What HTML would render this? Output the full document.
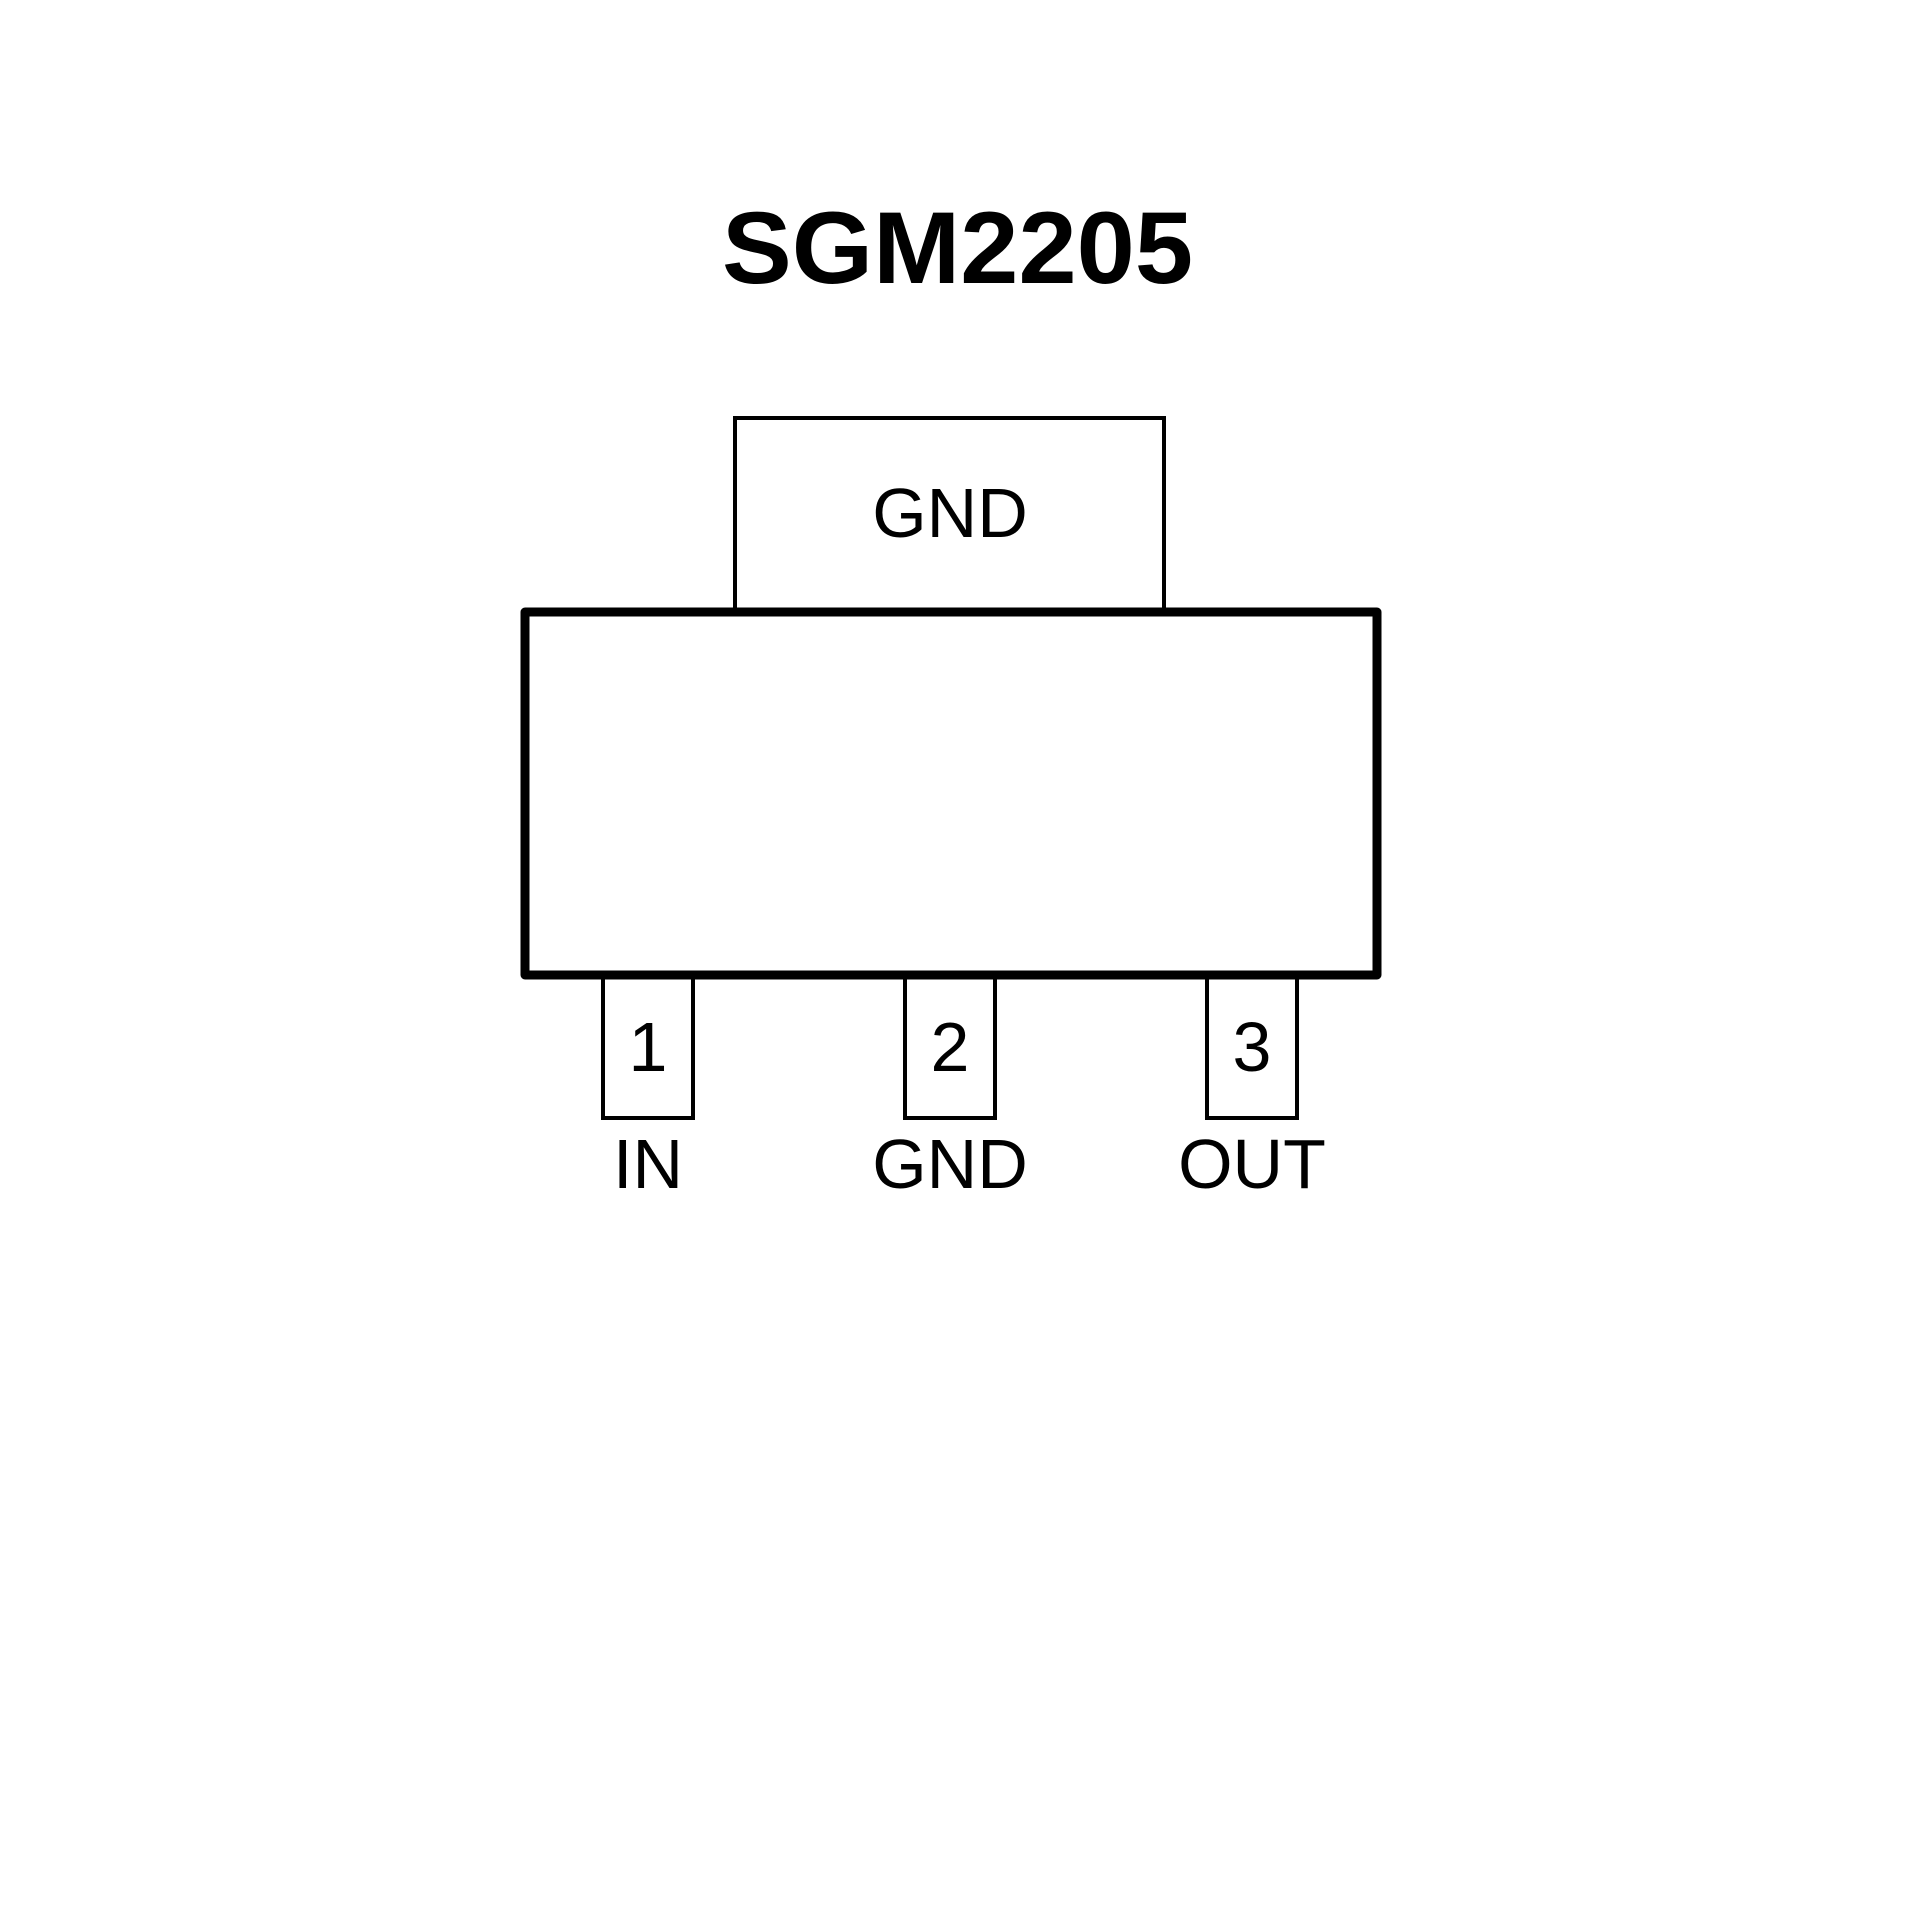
<!DOCTYPE html>
<html><head><meta charset="utf-8"><style>html,body{margin:0;padding:0;background:#fff;}svg{display:block}</style></head>
<body>
<svg width="1920" height="1920" viewBox="0 0 1920 1920" xmlns="http://www.w3.org/2000/svg">
<rect width="1920" height="1920" fill="#fff"/>
<text x="722" y="283" font-family="Liberation Sans, sans-serif" font-weight="bold" font-size="102" textLength="471" lengthAdjust="spacingAndGlyphs">SGM2205</text>
<rect x="735" y="418" width="429" height="200" fill="#fff" stroke="#000" stroke-width="4"/>
<text x="950" y="537" text-anchor="middle" font-family="Liberation Sans, sans-serif" font-size="70">GND</text>
<g fill="#fff" stroke="#000" stroke-width="4">
<rect x="603" y="970" width="90" height="148"/>
<rect x="905" y="970" width="90" height="148"/>
<rect x="1207" y="970" width="90" height="148"/>
</g>
<rect x="525" y="612" width="852" height="363" fill="#fff" stroke="#000" stroke-width="9" stroke-linejoin="round"/>
<g font-family="Liberation Sans, sans-serif" font-size="70" text-anchor="middle">
<text x="648" y="1071">1</text>
<text x="950" y="1071">2</text>
<text x="1252" y="1071">3</text>
<text x="648" y="1188">IN</text>
<text x="950" y="1188">GND</text>
<text x="1252" y="1188">OUT</text>
</g>
</svg>
</body></html>
